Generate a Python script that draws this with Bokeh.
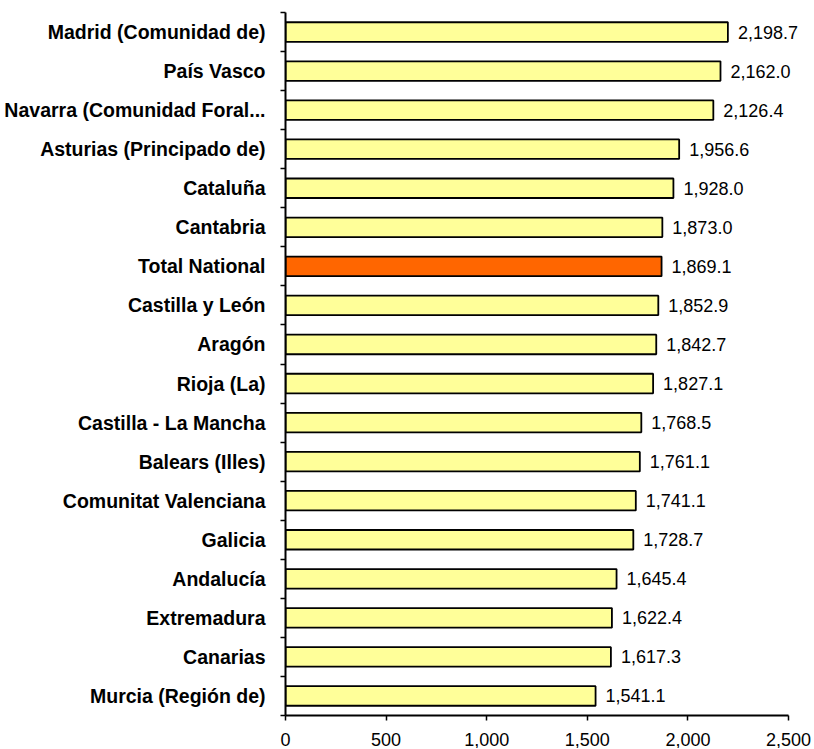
from bokeh.plotting import figure
from bokeh.models import ColumnDataSource, FixedTicker, Range1d, NumeralTickFormatter
from bokeh.core.properties import value
from bokeh.embed import file_html
from bokeh.resources import INLINE

regions = [
    "Madrid (Comunidad de)", "País Vasco", "Navarra (Comunidad Foral...",
    "Asturias (Principado de)", "Cataluña", "Cantabria", "Total National",
    "Castilla y León", "Aragón", "Rioja (La)", "Castilla - La Mancha",
    "Balears (Illes)", "Comunitat Valenciana", "Galicia", "Andalucía",
    "Extremadura", "Canarias", "Murcia (Región de)",
]
values = [2198.7, 2162.0, 2126.4, 1956.6, 1928.0, 1873.0, 1869.1, 1852.9,
          1842.7, 1827.1, 1768.5, 1761.1, 1741.1, 1728.7, 1645.4, 1622.4,
          1617.3, 1541.1]
highlight = "Total National"
x_ticks = [0, 500, 1000, 1500, 2000, 2500]

FONT = "Liberation Sans"
n = len(regions)
ypos = [n - 1 - i + 0.5 for i in range(n)]
colors = ["#FF6600" if r == highlight else "#FFFF99" for r in regions]
labels = ["{:,.1f}".format(v) for v in values]

AXIS_W = 503          # pixels spanned by 0..2500
FRAME_W = 527         # frame extends past 2500 so value labels are not clipped
x_max = x_ticks[-1]
x_end = x_max * FRAME_W / AXIS_W

src = ColumnDataSource(dict(y=ypos, v=values, c=colors, lab=labels))

p = figure(frame_width=FRAME_W, frame_height=703, min_border_left=285,
           min_border_top=12, min_border_right=2,
           x_range=Range1d(0, x_end), y_range=Range1d(0, n),
           output_backend="svg", toolbar_location=None)
p.outline_line_color = None
p.grid.visible = False
p.background_fill_color = "white"

p.hbar(y="y", left=0, right="v", height=0.5, fill_color="c",
       line_color="black", line_width=1.8, source=src)
p.text(x="v", y="y", text="lab", x_offset=10, text_baseline="middle",
       text_align="left", text_font=value(FONT), text_font_size="18px",
       text_color="black", source=src)

# x axis
xa = p.xaxis[0]
xa.bounds = (0, x_max)
xa.ticker = FixedTicker(ticks=x_ticks)
xa.formatter = NumeralTickFormatter(format="0,0")
xa.axis_line_width = 2
xa.axis_line_color = "black"
xa.major_tick_line_color = "black"
xa.major_tick_line_width = 1.5
xa.major_tick_out = 5
xa.major_tick_in = 0
xa.minor_tick_line_color = None
xa.major_label_standoff = 12
xa.major_label_text_font = FONT
xa.major_label_text_font_size = "18px"
xa.major_label_text_color = "black"

# y axis: names at category centres, tick marks between categories
ya = p.yaxis[0]
ya.ticker = FixedTicker(ticks=ypos, minor_ticks=list(range(n + 1)))
ya.major_label_overrides = {y: r for y, r in zip(ypos, regions)}
ya.axis_line_width = 2
ya.axis_line_color = "black"
ya.major_tick_out = 0
ya.major_tick_in = 0
ya.major_tick_line_color = None
ya.minor_tick_line_color = "black"
ya.minor_tick_line_width = 1.5
ya.minor_tick_out = 5
ya.minor_tick_in = 0
ya.major_label_standoff = 15
ya.major_label_text_font = FONT
ya.major_label_text_font_style = "bold"
ya.major_label_text_font_size = "19.5px"
ya.major_label_text_color = "black"

open("out.html", "w").write(file_html(p, INLINE))
